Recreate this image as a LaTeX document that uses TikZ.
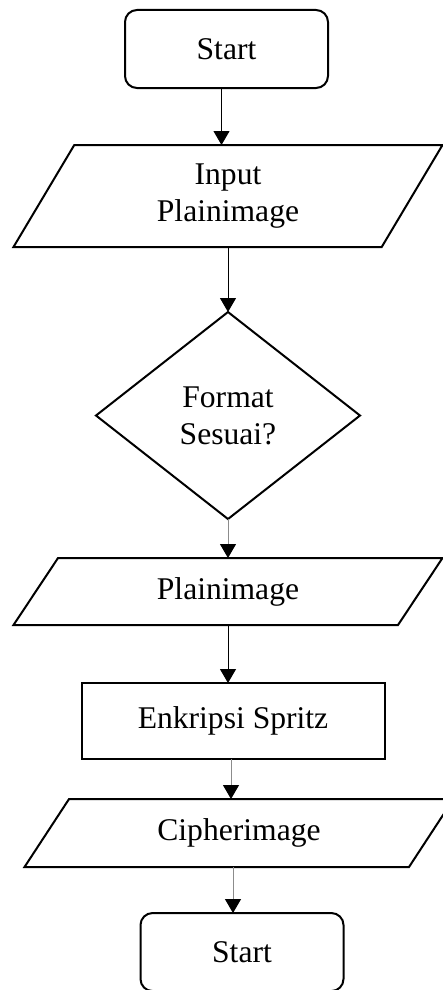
\documentclass[tikz,border=0pt]{standalone}
\usepackage{fontspec}
\setmainfont{Liberation Serif}
\usetikzlibrary{positioning,arrows.meta,shapes.geometric}
\definecolor{lngray}{RGB}{140,140,140}

\begin{document}
\begin{tikzpicture}[node distance=57pt,
    every node/.style={font=\fontsize{31.6}{37}\selectfont, line width=2pt, outer sep=0pt},
    terminal/.style={draw, rounded corners=12pt, minimum width=203pt, minimum height=78pt},
    io/.style={draw, trapezium, trapezium left angle=38.5, trapezium right angle=141.5, trapezium stretches body, minimum width=429pt, align=center},
    process/.style={draw, minimum width=303pt, minimum height=76pt},
    decision/.style={draw, diamond, aspect=1.275, minimum width=264pt, minimum height=207pt, align=center},
    flow/.style={-{Triangle[length=14pt,width=16pt,color=black,fill=black]}, line width=1pt},
    greyflow/.style={flow, draw=lngray}]
        \useasboundingbox (0,0) rectangle (443pt,-990pt);
        \node[terminal] (start) at (226.5pt,-49pt) {Start};
        \node[io, trapezium left angle=49.5, trapezium right angle=130.5, minimum height=102pt, below=57pt of start, xshift=1.5pt] (input) {Input\\Plainimage};
        \node[decision, below=65pt of input] (fmt) {Format\\Sesuai?};
        \node[io, minimum height=67pt, below=39pt of fmt] (plain) {Plainimage};
        \node[process, below=58pt of plain, xshift=5pt] (enk) {Enkripsi Spritz};
        \node[io, minimum height=68pt, below=40pt of enk, xshift=6pt] (cipher) {Cipherimage};
        \node[terminal, below=46pt of cipher, xshift=3pt] (stop) {Start};
        \draw[flow] ([xshift=-5pt]start.south) -- ([xshift=-5pt]start.south |- input.north);
        \draw[flow] (input.south) -- (input.south |- fmt.north);
        \draw[greyflow] (fmt.south) -- (fmt.south |- plain.north);
        \draw[flow] (plain.south) -- (plain.south |- enk.north);
        \draw[greyflow] ([xshift=-2pt]enk.south) -- ([xshift=-2pt]enk.south |- cipher.north);
        \draw[greyflow] (cipher.south -| enk) -- (stop.north -| enk);
    \end{tikzpicture}
\end{document}
